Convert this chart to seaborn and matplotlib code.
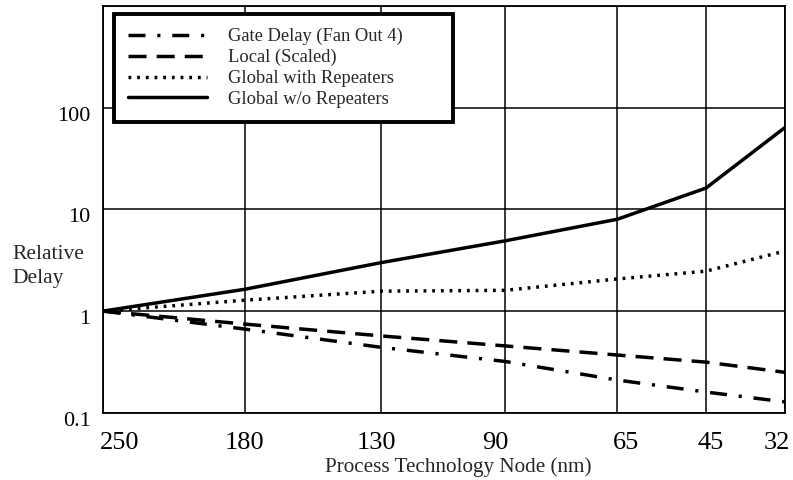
import numpy as np
import pandas as pd
import matplotlib
matplotlib.use("Agg")
import matplotlib.pyplot as plt
import matplotlib.transforms as mtransforms
import seaborn as sns

# technology nodes and where they sit along the x axis
nodes = ["250", "180", "130", "90", "65", "45", "32"]
node_pos = [0.0, 0.208, 0.408, 0.589, 0.754, 0.884, 1.0]

gate_delay = [1.0, 0.665, 0.44, 0.32, 0.21, 0.16, 0.128]
local_scaled = [1.0, 0.745, 0.57, 0.455, 0.37, 0.315, 0.25]
global_rep = [1.0, 1.28, 1.57, 1.6, 2.07, 2.47, 3.9]
global_norep = [1.0, 1.64, 3.0, 4.9, 8.0, 16.2, 64.0]

series_names = ["Gate Delay (Fan Out 4)", "Local (Scaled)",
                "Global with Repeaters", "Global w/o Repeaters"]
series_values = [gate_delay, local_scaled, global_rep, global_norep]

y_ticks = [0.1, 1, 10, 100, 1000]
y_tick_labels = ["0.1", "1", "10", "100", ""]

# the original labels are not quite centred on their gridlines (pixels)
xlabel_shift = [17, 0, -5, -9, 9, 5, -8]

rows = []
for name, vals in zip(series_names, series_values):
    for pos, v in zip(node_pos, vals):
        rows.append({"pos": pos, "delay": v, "series": name})
df = pd.DataFrame(rows)

sns.set_style("white")
plt.rcParams["font.family"] = ["Liberation Serif", "DejaVu Serif"]

fig = plt.figure(figsize=(7.93, 4.8), dpi=100)
ax = fig.add_axes([0.130, 0.140, 0.860, 0.8475])

dash_styles = {
    "Gate Delay (Fan Out 4)": (4.9, 3.4, 0.9, 3.4),
    "Local (Scaled)": (5.2, 2.9),
    "Global with Repeaters": (0.8, 1.7),
    "Global w/o Repeaters": "",
}

sns.lineplot(data=df, x="pos", y="delay", style="series",
             style_order=series_names, dashes=dash_styles,
             color="black", linewidth=2.5, ax=ax)

ax.set_yscale("log")
ax.set_ylim(0.1, 1000)
ax.set_xlim(0, 1)
ax.set_yticks(y_ticks)
ax.set_yticklabels(y_tick_labels)
ax.minorticks_off()
ax.set_xticks(node_pos)
ax.set_xticklabels(nodes)
ax.tick_params(axis="x", length=0, labelsize=19, colors="black", pad=14)
ax.tick_params(axis="y", length=0, labelsize=16, colors="black", pad=9)

for lab, dx in zip(ax.get_xticklabels(), xlabel_shift):
    lab.set_transform(lab.get_transform() +
                      mtransforms.ScaledTranslation(dx / 100, 0, fig.dpi_scale_trans))
for lab in ax.get_yticklabels():
    lab.set_transform(lab.get_transform() +
                      mtransforms.ScaledTranslation(0, -6 / 100, fig.dpi_scale_trans))

ax.grid(True, color="black", linewidth=1.1)
for sp in ax.spines.values():
    sp.set_color("black")
    sp.set_linewidth(1.3)

ax.set_xlabel("")
ax.set_ylabel("")
fig.text(0.578, 0.026, "Process Technology Node (nm)", fontsize=15.2,
         ha="center", va="center")
fig.text(0.016, 0.445, "Relative\nDelay", fontsize=15.5, ha="left", va="center",
         linespacing=1.3)

handles, labels = ax.get_legend_handles_labels()
for h in handles:
    h.set_linewidth(2.5)
leg_w = (453 - 114) / 682
leg = ax.legend(handles, labels, loc="upper left",
                bbox_to_anchor=(0.016, 0.5, leg_w, 0.480), mode="expand",
                fontsize=13.3, handlelength=4.3, fancybox=False, framealpha=1,
                edgecolor="black", borderaxespad=0, labelspacing=0.2,
                handletextpad=1.1, borderpad=0.75)
leg.get_frame().set_linewidth(2.8)

fig.savefig("out.png", dpi=100)
